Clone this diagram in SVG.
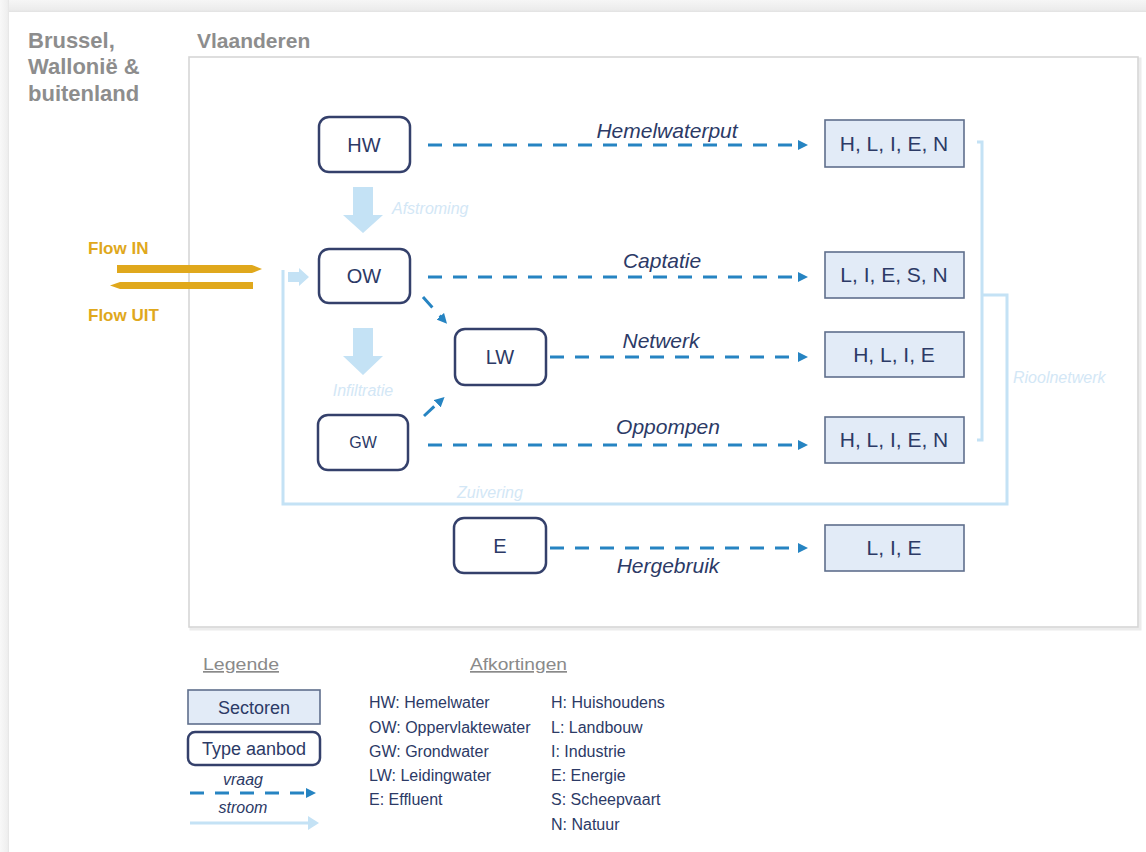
<svg xmlns="http://www.w3.org/2000/svg" width="1146" height="852" viewBox="0 0 1146 852">
<defs>
<style>
.region{font-family:"Liberation Sans",Arial,sans-serif;font-weight:bold;fill:#8d8d8d}
.node rect{fill:#fff;stroke:#34406b;stroke-width:2.5}
.node text{font-family:"Liberation Sans",Arial,sans-serif;font-size:20px;fill:#2c3a66;text-anchor:middle}
.sector rect{fill:#e2ebf7;stroke:#5f6f8c;stroke-width:1.6}
.sector text{font-family:"Liberation Sans",Arial,sans-serif;font-size:21px;fill:#2c3a66;text-anchor:middle}
.vraag{stroke:#2684c2;stroke-width:3;stroke-dasharray:14 11;fill:none}
.stroomline{stroke:#c4e2f5;stroke-width:3;fill:none}
.lbl{font-family:"Liberation Sans",Arial,sans-serif;font-style:italic;font-size:21px;fill:#2c3a66;text-anchor:middle}
.slbl{font-family:"Liberation Sans",Arial,sans-serif;font-style:italic;font-size:16px;fill:#d3e7f6}
.flow{font-family:"Liberation Sans",Arial,sans-serif;font-weight:bold;font-size:17px;fill:#e0a81c}
.leg{font-family:"Liberation Sans",Arial,sans-serif;font-size:17px;fill:#8a8a8a;text-decoration:underline}
.abbr{font-family:"Liberation Sans",Arial,sans-serif;font-size:16px;fill:#2c3a66}
</style>
<marker id="ah" markerUnits="userSpaceOnUse" markerWidth="12" markerHeight="10" refX="1" refY="5" orient="auto">
<path d="M0,0 L10,5 L0,10 Z" fill="#2684c2"/>
</marker>
<marker id="ahl" markerUnits="userSpaceOnUse" markerWidth="12" markerHeight="14" refX="1" refY="7" orient="auto">
<path d="M0,0 L11,7 L0,14 Z" fill="#c4e2f5"/>
</marker>
<linearGradient id="topg" x1="0" y1="0" x2="0" y2="1">
<stop offset="0" stop-color="#f6f6f6"/><stop offset="0.8" stop-color="#ececec"/><stop offset="1" stop-color="#e2e2e2"/>
</linearGradient>
<linearGradient id="leftg" x1="0" y1="0" x2="1" y2="0">
<stop offset="0" stop-color="#f8f8f8"/><stop offset="0.8" stop-color="#efefef"/><stop offset="1" stop-color="#e4e4e4"/>
</linearGradient>
</defs>
<rect width="1146" height="852" fill="#fff"/>
<rect x="0" y="0" width="1146" height="12" fill="url(#topg)"/>
<rect x="0" y="0" width="9" height="852" fill="url(#leftg)"/>

<g id="regions">
<text class="region" font-size="22"><tspan x="28" y="48">Brussel,</tspan><tspan x="28" y="74">Wallonië &amp;</tspan><tspan x="28" y="101">buitenland</tspan></text>
<text class="region" x="197" y="48" font-size="21">Vlaanderen</text>
<rect x="191" y="59" width="949" height="570" fill="none" stroke="#ececec" stroke-width="3"/>
<rect x="189" y="57" width="949" height="570" fill="#fff" stroke="#d6d6d6" stroke-width="1.6"/>
</g>

<g id="connectors">
<polyline class="stroomline" points="977,142 982,142 982,440 977,440"/>
<polyline class="stroomline" points="982,295 1007,295 1007,504 283,504 283,270"/>
<polygon points="288,272 299,272 299,268 309,277 299,286 299,282 288,282" fill="#c4e2f5"/>
<polygon points="353,187 373,187 373,215 383,215 363,233 343,215 353,215" fill="#c4e2f5"/>
<polygon points="353,328 373,328 373,356 383,356 363,375 343,356 353,356" fill="#c4e2f5"/>
<polygon points="117,265 252,265 262,269 252,273 117,273" fill="#e0a81c"/>
<polygon points="253,282 120,282 110,285.5 120,289 253,289" fill="#e0a81c"/>
<line class="vraag" x1="428" y1="145" x2="799" y2="145" marker-end="url(#ah)"/>
<line class="vraag" x1="428" y1="277" x2="799" y2="277" marker-end="url(#ah)"/>
<line class="vraag" x1="550" y1="357" x2="799" y2="357" marker-end="url(#ah)"/>
<line class="vraag" x1="428" y1="445" x2="799" y2="445" marker-end="url(#ah)"/>
<line class="vraag" x1="550" y1="548" x2="799" y2="548" marker-end="url(#ah)"/>
<line class="vraag" x1="423" y1="297" x2="441" y2="317" stroke-dasharray="10 7" marker-end="url(#ah)"/>
<line class="vraag" x1="424" y1="416" x2="438" y2="403" stroke-dasharray="10 7" marker-end="url(#ah)"/>
<text class="lbl" x="667" y="138">Hemelwaterput</text>
<text class="lbl" x="662" y="268">Captatie</text>
<text class="lbl" x="661" y="348">Netwerk</text>
<text class="lbl" x="668" y="434">Oppompen</text>
<text class="lbl" x="668" y="573">Hergebruik</text>
<text class="slbl" x="392" y="214">Afstroming</text>
<text class="slbl" x="363" y="396" text-anchor="middle">Infiltratie</text>
<text class="slbl" x="457" y="498">Zuivering</text>
<text class="slbl" x="1013" y="383">Rioolnetwerk</text>
<text class="flow" x="88" y="254">Flow IN</text>
<text class="flow" x="88" y="321">Flow UIT</text>
</g>

<g id="node-HW" class="node"><rect x="319" y="117" width="91" height="55" rx="10"/><text x="364" y="152">HW</text></g>
<g id="node-OW" class="node"><rect x="319" y="249" width="91" height="54" rx="10"/><text x="364" y="283">OW</text></g>
<g id="node-GW" class="node"><rect x="318" y="415" width="90" height="55" rx="10"/><text x="363" y="448" style="font-size:16px">GW</text></g>
<g id="node-LW" class="node"><rect x="455" y="329" width="91" height="56" rx="10"/><text x="500" y="364">LW</text></g>
<g id="node-E" class="node"><rect x="454" y="518" width="92" height="55" rx="10"/><text x="500" y="553">E</text></g>

<g id="sector-1" class="sector"><rect x="825" y="120" width="139" height="47"/><text x="894" y="151">H, L, I, E, N</text></g>
<g id="sector-2" class="sector"><rect x="825" y="252" width="139" height="46"/><text x="894" y="282">L, I, E, S, N</text></g>
<g id="sector-3" class="sector"><rect x="825" y="332" width="139" height="45"/><text x="894" y="362">H, L, I, E</text></g>
<g id="sector-4" class="sector"><rect x="825" y="417" width="139" height="46"/><text x="894" y="447">H, L, I, E, N</text></g>
<g id="sector-5" class="sector"><rect x="825" y="525" width="139" height="46"/><text x="894" y="555">L, I, E</text></g>

<g id="legend">
<text class="leg" x="203" y="670" textLength="76" lengthAdjust="spacingAndGlyphs">Legende</text>
<g class="sector"><rect x="188" y="690" width="132" height="34"/><text x="254" y="714" style="font-size:18px">Sectoren</text></g>
<g class="node"><rect x="188" y="732" width="132" height="33" rx="7"/><text x="254" y="755" style="font-size:18px">Type aanbod</text></g>
<text class="abbr" x="243" y="785" text-anchor="middle" font-style="italic">vraag</text>
<line class="vraag" x1="190" y1="793" x2="307" y2="793" marker-end="url(#ah)"/>
<text class="abbr" x="243" y="813" text-anchor="middle" font-style="italic">stroom</text>
<line class="stroomline" x1="190" y1="823" x2="309" y2="823" marker-end="url(#ahl)"/>
</g>

<g id="abbreviations">
<text class="leg" x="470" y="670" textLength="97" lengthAdjust="spacingAndGlyphs">Afkortingen</text>
<text class="abbr" x="369" y="708">HW: Hemelwater</text>
<text class="abbr" x="369" y="733">OW: Oppervlaktewater</text>
<text class="abbr" x="369" y="757">GW: Grondwater</text>
<text class="abbr" x="369" y="781">LW: Leidingwater</text>
<text class="abbr" x="369" y="805">E: Effluent</text>
<text class="abbr" x="551" y="708">H: Huishoudens</text>
<text class="abbr" x="551" y="733">L: Landbouw</text>
<text class="abbr" x="551" y="757">I: Industrie</text>
<text class="abbr" x="551" y="781">E: Energie</text>
<text class="abbr" x="551" y="805">S: Scheepvaart</text>
<text class="abbr" x="551" y="830">N: Natuur</text>
</g>
</svg>
